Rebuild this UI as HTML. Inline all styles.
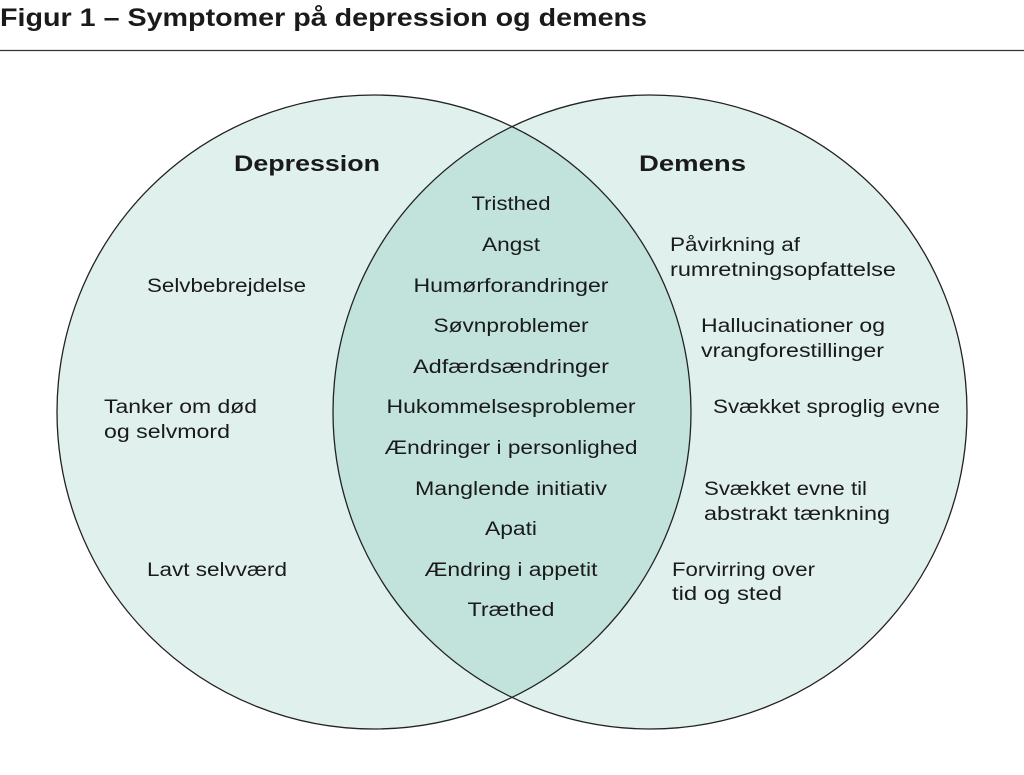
<!DOCTYPE html>
<html><head><meta charset="utf-8"><style>
html,body{margin:0;padding:0;background:#fff;}
svg{display:block}
text{font-family:"Liberation Sans",sans-serif;fill:#1a1a1a;}
.t{font-size:19px}
.h{font-size:22px;font-weight:bold}
</style></head><body>
<svg width="1024" height="775" viewBox="0 0 1024 775">
<text x="0" y="26" style="font-size:25px;font-weight:bold" textLength="647" lengthAdjust="spacingAndGlyphs">Figur 1 – Symptomer på depression og demens</text>
<line x1="0" y1="50.5" x2="1024" y2="50.5" stroke="#333" stroke-width="1.2"/>
<defs><clipPath id="cl"><circle cx="374" cy="412" r="317"/></clipPath></defs>
<circle cx="374" cy="412" r="317" fill="#dff0ed"/>
<circle cx="650" cy="412" r="317" fill="#dff0ed"/>
<circle cx="650" cy="412" r="317" fill="#c2e3dc" clip-path="url(#cl)"/>
<circle cx="374" cy="412" r="317" fill="none" stroke="#222" stroke-width="1.3"/>
<circle cx="650" cy="412" r="317" fill="none" stroke="#222" stroke-width="1.3"/>
<text class="h" x="234" y="171" textLength="146" lengthAdjust="spacingAndGlyphs">Depression</text>
<text class="h" x="639" y="171" textLength="107" lengthAdjust="spacingAndGlyphs">Demens</text>
<g class="t" text-anchor="middle">
<text x="511" y="210" textLength="79" lengthAdjust="spacingAndGlyphs">Tristhed</text>
<text x="511" y="251" textLength="58" lengthAdjust="spacingAndGlyphs">Angst</text>
<text x="511" y="292" textLength="195" lengthAdjust="spacingAndGlyphs">Humørforandringer</text>
<text x="511" y="332" textLength="155" lengthAdjust="spacingAndGlyphs">Søvnproblemer</text>
<text x="511" y="373" textLength="196" lengthAdjust="spacingAndGlyphs">Adfærdsændringer</text>
<text x="511" y="413" textLength="249" lengthAdjust="spacingAndGlyphs">Hukommelsesproblemer</text>
<text x="511" y="454" textLength="253" lengthAdjust="spacingAndGlyphs">Ændringer i personlighed</text>
<text x="511" y="495" textLength="192" lengthAdjust="spacingAndGlyphs">Manglende initiativ</text>
<text x="511" y="535" textLength="52" lengthAdjust="spacingAndGlyphs">Apati</text>
<text x="511" y="576" textLength="173" lengthAdjust="spacingAndGlyphs">Ændring i appetit</text>
<text x="511" y="616" textLength="87" lengthAdjust="spacingAndGlyphs">Træthed</text>
</g>
<g class="t">
<text x="147" y="292" textLength="159" lengthAdjust="spacingAndGlyphs">Selvbebrejdelse</text>
<text x="104" y="413" textLength="153" lengthAdjust="spacingAndGlyphs">Tanker om død</text>
<text x="104" y="438" textLength="126" lengthAdjust="spacingAndGlyphs">og selvmord</text>
<text x="147" y="576" textLength="140" lengthAdjust="spacingAndGlyphs">Lavt selvværd</text>
<text x="670" y="251" textLength="130" lengthAdjust="spacingAndGlyphs">Påvirkning af</text>
<text x="670" y="276" textLength="226" lengthAdjust="spacingAndGlyphs">rumretningsopfattelse</text>
<text x="701" y="332" textLength="184" lengthAdjust="spacingAndGlyphs">Hallucinationer og</text>
<text x="701" y="357" textLength="183" lengthAdjust="spacingAndGlyphs">vrangforestillinger</text>
<text x="713" y="413" textLength="227" lengthAdjust="spacingAndGlyphs">Svækket sproglig evne</text>
<text x="704" y="495" textLength="163" lengthAdjust="spacingAndGlyphs">Svækket evne til</text>
<text x="704" y="520" textLength="186" lengthAdjust="spacingAndGlyphs">abstrakt tænkning</text>
<text x="672" y="576" textLength="143" lengthAdjust="spacingAndGlyphs">Forvirring over</text>
<text x="672" y="600" textLength="110" lengthAdjust="spacingAndGlyphs">tid og sted</text>
</g>
</svg>
</body></html>
